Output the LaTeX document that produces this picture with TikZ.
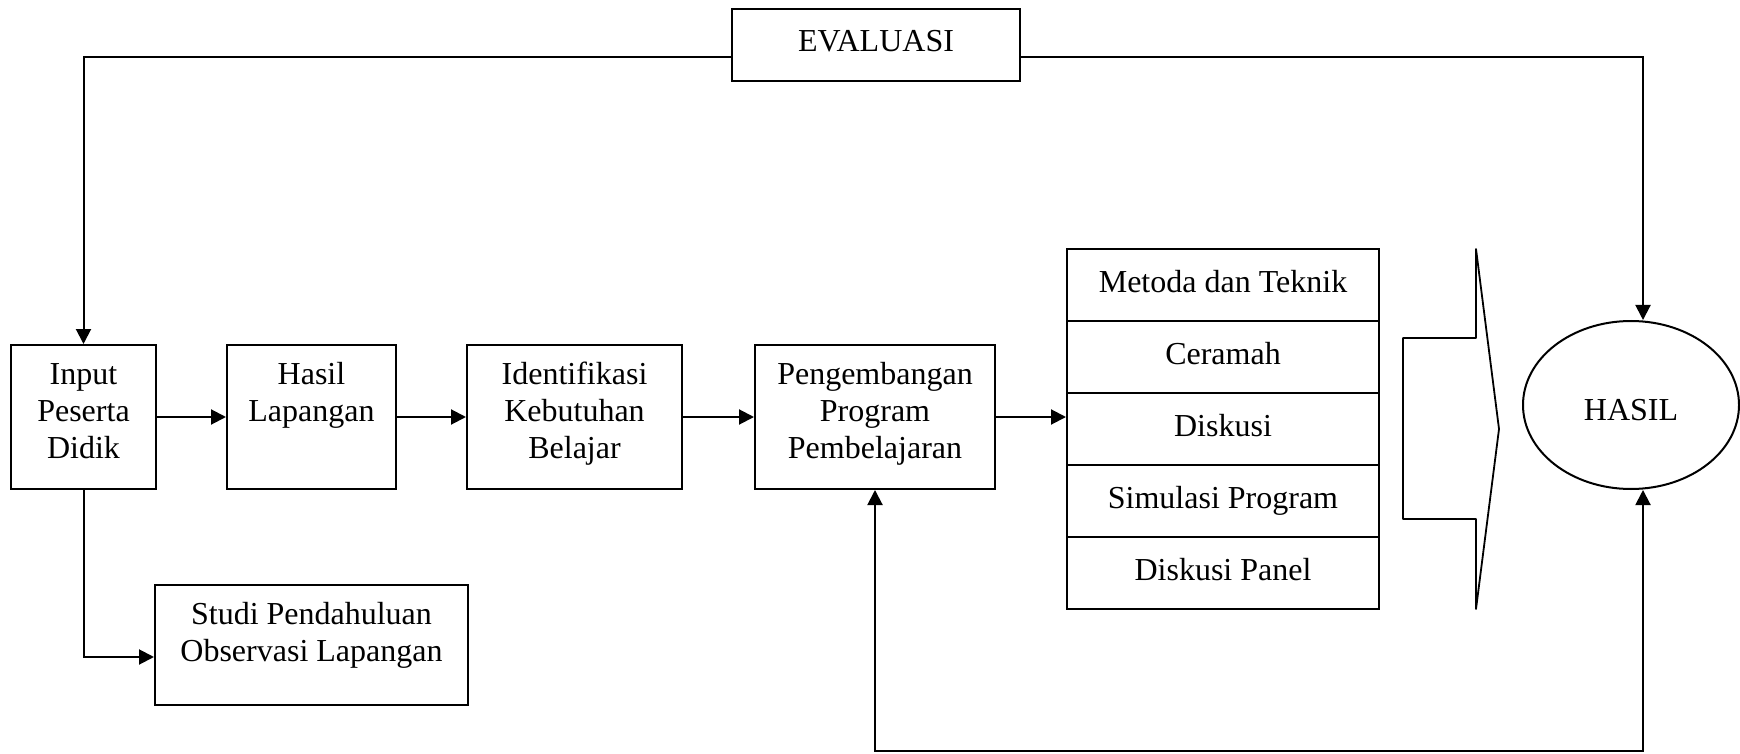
\documentclass[tikz,border=0pt]{standalone}
\usepackage{fontspec}
\setmainfont{Liberation Serif}
\usetikzlibrary{arrows.meta,shapes.geometric}
\begin{document}
\begin{tikzpicture}[x=0.5pt,y=-0.5pt,
  box/.style={draw,line width=1pt,inner sep=0pt},
  txt/.style={anchor=north,align=center,inner sep=0pt,font=\fontsize{16}{18.4}\selectfont},
  arr/.style={line width=1pt,-{Triangle[length=7.5pt,width=7.5pt]}},
  dblarr/.style={line width=1pt,{Triangle[length=7.5pt,width=7.5pt]}-{Triangle[length=7.5pt,width=7.5pt]}},
  line/.style={line width=1pt}
]
\useasboundingbox (0,0) rectangle (1740,754);

% EVALUASI
\node[box,minimum width=144pt,minimum height=36pt] (eval) at (876,45) {};
\node[txt] at ([yshift=-8.8pt]eval.north) {\strut EVALUASI};

% main row
\node[box,minimum width=72.5pt,minimum height=72pt] (input) at (83.5,417) {};
\node[txt] at ([yshift=-7.4pt]input.north) {\strut Input\\Peserta\\Didik};

\node[box,minimum width=84.5pt,minimum height=72pt] (hasilb) at (311.5,417) {};
\node[txt] at ([yshift=-7.4pt]hasilb.north) {\strut Hasil\\Lapangan};

\node[box,minimum width=107.5pt,minimum height=72pt] (ident) at (574.5,417) {};
\node[txt] at ([yshift=-7.4pt]ident.north) {\strut Identifikasi\\Kebutuhan\\Belajar};

\node[box,minimum width=120pt,minimum height=72pt] (peng) at (875,417) {};
\node[txt] at ([yshift=-7.4pt]peng.north) {\strut Pengembangan\\Program\\Pembelajaran};

\node[box,minimum width=156.5pt,minimum height=60pt] (studi) at (311.5,645) {};
\node[txt] at ([yshift=-7.2pt]studi.north) {\strut Studi Pendahuluan\\Observasi Lapangan};

% stack
\node[box,minimum width=156pt,minimum height=36pt] (r1) at (1223,285) {};
\node[txt] at ([yshift=-9pt]r1.north) {\strut Metoda dan Teknik};
\node[box,minimum width=156pt,minimum height=36pt] (r2) at (1223,357) {};
\node[txt] at ([yshift=-9pt]r2.north) {\strut Ceramah};
\node[box,minimum width=156pt,minimum height=36pt] (r3) at (1223,429) {};
\node[txt] at ([yshift=-9pt]r3.north) {\strut Diskusi};
\node[box,minimum width=156pt,minimum height=36pt] (r4) at (1223,501) {};
\node[txt] at ([yshift=-9pt]r4.north) {\strut Simulasi Program};
\node[box,minimum width=156pt,minimum height=36pt] (r5) at (1223,573) {};
\node[txt] at ([yshift=-9pt]r5.north) {\strut Diskusi Panel};

% big arrow shape
\draw[line width=0.9pt,line join=round] (1476,249) -- (1476,338) -- (1403,338) -- (1403,519) -- (1476,519) -- (1476,609) -- (1499,429) -- cycle;

% HASIL
\node[ellipse,draw,line width=1pt,inner sep=0pt,minimum width=108pt,minimum height=84pt] (hasil) at (1631,405) {};
\node[font=\fontsize{16}{18.4}\selectfont,inner sep=0pt] at ([yshift=-2.5pt]hasil.center) {HASIL};

% connectors
\draw[arr] (input.east) -- (hasilb.west);
\draw[arr] (hasilb.east) -- (ident.west);
\draw[arr] (ident.east) -- (peng.west);
\draw[arr] (peng.east) -- (peng.east -| r3.west);

\coordinate (el) at ([yshift=-6pt]eval.west);
\coordinate (er) at ([yshift=-6pt]eval.east);
\draw[arr] (el) -| (input.north);
\draw[arr] (er) -| ([xshift=6pt]hasil.north);

\draw[arr] (input.south) |- ([yshift=-6pt]studi.west);

\coordinate (hb) at ([xshift=6pt]hasil.south);
\coordinate (bot) at (1643,751);
\draw[dblarr] (peng.south) -- (peng.south |- bot) -- (bot) -- (hb);
\end{tikzpicture}
\end{document}
